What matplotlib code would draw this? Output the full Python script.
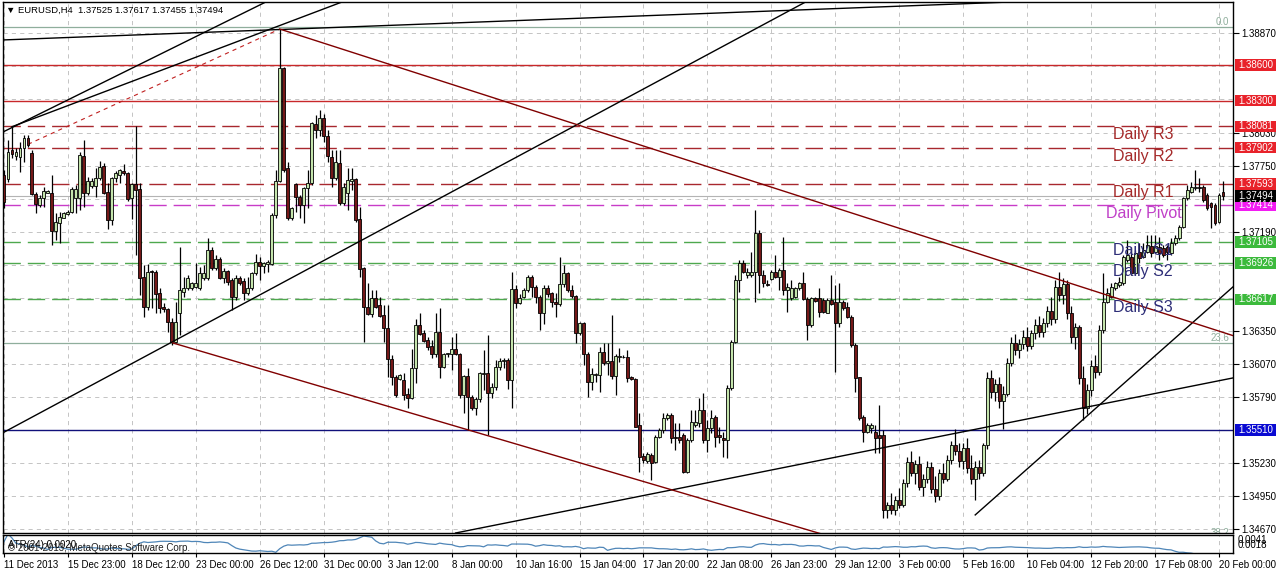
import matplotlib
matplotlib.use('Agg')
import matplotlib.pyplot as plt
from matplotlib.patches import Rectangle
import numpy as np
import pandas as pd

plt.rcParams['font.family'] = ['Liberation Sans', 'DejaVu Sans']
plt.rcParams['lines.scale_dashes'] = False

# ---------------- data (EURUSD H4 candles) ----------------
opens = [
    1.37670, 1.37636, 1.37882, 1.37831, 1.37825, 1.37896, 1.37980, 1.37859, 1.37506, 1.37416,
    1.37473, 1.37521, 1.37515, 1.37199, 1.37267, 1.37309, 1.37337, 1.37354, 1.37478, 1.37478,
    1.37831, 1.37515, 1.37580, 1.37580, 1.37642, 1.37746, 1.37529, 1.37292, 1.37642, 1.37670,
    1.37704, 1.37684, 1.37473, 1.37591, 1.37552, 1.36809, 1.36550, 1.36857, 1.36852, 1.36668,
    1.36550, 1.36536, 1.36428, 1.36259, 1.36499, 1.36682, 1.36711, 1.36711, 1.36725, 1.36711,
    1.36801, 1.36801, 1.37035, 1.36880, 1.36959, 1.36801, 1.36857, 1.36781, 1.36640, 1.36801,
    1.36773, 1.36668, 1.36711, 1.36838, 1.36936, 1.36900, 1.36914, 1.36914, 1.37331, 1.37619,
    1.38579, 1.37727, 1.37303, 1.37591, 1.37487, 1.37416, 1.37557, 1.37600, 1.38100, 1.38050,
    1.38150, 1.38000, 1.37826, 1.37642, 1.37769, 1.37430, 1.37515, 1.37622, 1.37634, 1.37295,
    1.36880, 1.36556, 1.36494, 1.36626, 1.36570, 1.36485, 1.36372, 1.36110, 1.35963, 1.35940,
    1.35935, 1.35814, 1.35780, 1.36034, 1.36400, 1.36336, 1.36273, 1.36223, 1.36155, 1.36344,
    1.36042, 1.36152, 1.36155, 1.36200, 1.36155, 1.35808, 1.35972, 1.35794, 1.35695, 1.35771,
    1.35986, 1.35991, 1.35828, 1.35878, 1.36042, 1.36096, 1.36104, 1.35935, 1.36702, 1.36584,
    1.36640, 1.36697, 1.36810, 1.36725, 1.36640, 1.36505, 1.36717, 1.36669, 1.36598, 1.36578,
    1.36745, 1.36838, 1.36697, 1.36646, 1.36330, 1.36415, 1.36155, 1.35921, 1.35977, 1.35977,
    1.36175, 1.36076, 1.36098, 1.35969, 1.36127, 1.36127, 1.36132, 1.35957, 1.35940, 1.35554,
    1.35291, 1.35249, 1.35300, 1.35243, 1.35455, 1.35512, 1.35610, 1.35639, 1.35455, 1.35455,
    1.35469, 1.35159, 1.35427, 1.35554, 1.35568, 1.35681, 1.35427, 1.35526, 1.35624, 1.35469,
    1.35441, 1.35427, 1.35864, 1.36254, 1.36781, 1.36923, 1.36824, 1.36824, 1.36852, 1.37177,
    1.36824, 1.36748, 1.36787, 1.36852, 1.36810, 1.36866, 1.36697, 1.36626, 1.36640, 1.36711,
    1.36753, 1.36618, 1.36400, 1.36626, 1.36626, 1.36612, 1.36505, 1.36612, 1.36598, 1.36415,
    1.36598, 1.36556, 1.36471, 1.36231, 1.35957, 1.35624, 1.35497, 1.35526, 1.35497, 1.35469,
    1.35469, 1.34834, 1.34880, 1.34830, 1.34920, 1.34880, 1.35060, 1.35240, 1.35150, 1.35220,
    1.35030, 1.35100, 1.35200, 1.35010, 1.34950, 1.35150, 1.35100, 1.35260, 1.35380, 1.35330,
    1.35250, 1.35360, 1.35190, 1.35100, 1.35200, 1.35150, 1.35380, 1.35950, 1.35830, 1.35900,
    1.35760, 1.35820, 1.36080, 1.36250, 1.36190, 1.36240, 1.36300, 1.36220, 1.36330, 1.36400,
    1.36340, 1.36420, 1.36520, 1.36450, 1.36720, 1.36650, 1.36750, 1.36500, 1.36300, 1.36380,
    1.35950, 1.35700, 1.35850, 1.36050, 1.36000, 1.36358, 1.36598, 1.36640, 1.36711, 1.36739,
    1.36753, 1.36951, 1.36979, 1.36838, 1.37021, 1.36979, 1.37021, 1.37069, 1.37021, 1.37064,
    1.37050, 1.37064, 1.37007, 1.37092, 1.37134, 1.37233, 1.37473, 1.37529, 1.37558, 1.37572,
    1.37572, 1.37501, 1.37431, 1.37416, 1.37275, 1.37525,
]
highs = [
    1.37712, 1.37966, 1.38079, 1.37896, 1.37952, 1.38009, 1.38009, 1.37882, 1.37529, 1.37501,
    1.37571, 1.37543, 1.37670, 1.37346, 1.37360, 1.37360, 1.37374, 1.37571, 1.37585, 1.37868,
    1.37966, 1.37656, 1.37648, 1.37727, 1.37789, 1.37769, 1.37600, 1.37656, 1.37704, 1.37718,
    1.37760, 1.37698, 1.37600, 1.38088, 1.37600, 1.36908, 1.36914, 1.36866, 1.36866, 1.36711,
    1.36584, 1.36541, 1.36457, 1.36598, 1.37063, 1.36809, 1.36823, 1.36767, 1.36922, 1.36894,
    1.36908, 1.37140, 1.37063, 1.36993, 1.36979, 1.36880, 1.36866, 1.36795, 1.36823, 1.36818,
    1.36795, 1.36809, 1.36852, 1.37004, 1.36979, 1.36936, 1.36950, 1.37346, 1.37712, 1.38906,
    1.38587, 1.37783, 1.37402, 1.37600, 1.37501, 1.37571, 1.37712, 1.38122, 1.38180, 1.38220,
    1.38190, 1.38050, 1.37882, 1.37882, 1.37882, 1.37600, 1.37727, 1.37727, 1.37642, 1.37402,
    1.36894, 1.36753, 1.36697, 1.36697, 1.36640, 1.36570, 1.36570, 1.36146, 1.35977, 1.35983,
    1.35991, 1.35864, 1.36194, 1.36448, 1.36505, 1.36358, 1.36301, 1.36273, 1.36499, 1.36541,
    1.36161, 1.36166, 1.36301, 1.36330, 1.36161, 1.35977, 1.36034, 1.35808, 1.35794, 1.36005,
    1.36189, 1.36316, 1.35907, 1.36104, 1.36118, 1.36118, 1.36118, 1.36852, 1.36739, 1.36663,
    1.36711, 1.36824, 1.36824, 1.36739, 1.36654, 1.36739, 1.36739, 1.36683, 1.36669, 1.36973,
    1.36908, 1.36852, 1.36739, 1.36654, 1.36429, 1.36429, 1.36175, 1.36034, 1.35997, 1.36217,
    1.36245, 1.36251, 1.36485, 1.36155, 1.36203, 1.36146, 1.36189, 1.35969, 1.35949, 1.35653,
    1.35314, 1.35328, 1.35314, 1.35469, 1.35526, 1.35653, 1.35653, 1.35653, 1.35574, 1.35568,
    1.35483, 1.35441, 1.35681, 1.35681, 1.35780, 1.35822, 1.35596, 1.35681, 1.35639, 1.35540,
    1.35497, 1.35893, 1.36273, 1.36824, 1.36951, 1.36951, 1.36880, 1.37021, 1.37374, 1.37205,
    1.36866, 1.36781, 1.36866, 1.36993, 1.36880, 1.37143, 1.36753, 1.36781, 1.36725, 1.36767,
    1.36852, 1.36640, 1.36640, 1.36640, 1.36711, 1.36626, 1.36626, 1.36824, 1.36739, 1.36753,
    1.36612, 1.36598, 1.36485, 1.36245, 1.35963, 1.35639, 1.35568, 1.35568, 1.35554, 1.35723,
    1.35512, 1.34900, 1.34980, 1.34950, 1.35020, 1.35100, 1.35280, 1.35330, 1.35260, 1.35290,
    1.35140, 1.35250, 1.35240, 1.35120, 1.35180, 1.35230, 1.35300, 1.35420, 1.35520, 1.35400,
    1.35400, 1.35440, 1.35300, 1.35250, 1.35260, 1.35400, 1.36000, 1.36020, 1.35940, 1.35960,
    1.35880, 1.36120, 1.36300, 1.36320, 1.36280, 1.36360, 1.36380, 1.36360, 1.36450, 1.36480,
    1.36460, 1.36560, 1.36640, 1.36780, 1.36850, 1.36800, 1.36780, 1.36560, 1.36420, 1.36400,
    1.36050, 1.35900, 1.36100, 1.36150, 1.36400, 1.36838, 1.36711, 1.36753, 1.36767, 1.36810,
    1.36993, 1.37120, 1.37064, 1.37035, 1.37092, 1.37092, 1.37162, 1.37162, 1.37162, 1.37148,
    1.37078, 1.37078, 1.37134, 1.37162, 1.37247, 1.37487, 1.37586, 1.37614, 1.37713, 1.37642,
    1.37586, 1.37515, 1.37445, 1.37431, 1.37515, 1.37617,
]
lows = [
    1.37388, 1.37614, 1.37811, 1.37797, 1.37698, 1.37783, 1.37910, 1.37501, 1.37346, 1.37402,
    1.37402, 1.37515, 1.37077, 1.37120, 1.37092, 1.37303, 1.37331, 1.37346, 1.37346, 1.37374,
    1.37402, 1.37501, 1.37557, 1.37487, 1.37628, 1.37506, 1.37210, 1.37247, 1.37614, 1.37600,
    1.37670, 1.37453, 1.37295, 1.36993, 1.36654, 1.36471, 1.36527, 1.36541, 1.36499, 1.36499,
    1.36513, 1.36344, 1.36231, 1.36245, 1.36316, 1.36640, 1.36696, 1.36696, 1.36711, 1.36696,
    1.36781, 1.36781, 1.36866, 1.36866, 1.36790, 1.36753, 1.36739, 1.36527, 1.36612, 1.36739,
    1.36612, 1.36654, 1.36696, 1.36823, 1.36781, 1.36838, 1.36852, 1.36908, 1.37303, 1.37614,
    1.37698, 1.37289, 1.37289, 1.37360, 1.37303, 1.37261, 1.37388, 1.37585, 1.37980, 1.38000,
    1.37950, 1.37780, 1.37572, 1.37628, 1.37416, 1.37416, 1.37374, 1.37543, 1.37275, 1.36810,
    1.36259, 1.36485, 1.36471, 1.36542, 1.36471, 1.36259, 1.35963, 1.35892, 1.35794, 1.35935,
    1.35765, 1.35695, 1.35771, 1.35907, 1.36316, 1.36259, 1.36189, 1.36118, 1.36132, 1.35949,
    1.36034, 1.36132, 1.36020, 1.36146, 1.35780, 1.35653, 1.35512, 1.35681, 1.35639, 1.35751,
    1.35850, 1.35469, 1.35780, 1.35850, 1.36020, 1.36034, 1.35856, 1.35695, 1.36542, 1.36578,
    1.36626, 1.36683, 1.36640, 1.36584, 1.36358, 1.36409, 1.36640, 1.36556, 1.36471, 1.36561,
    1.36725, 1.36683, 1.36626, 1.36251, 1.36316, 1.36062, 1.35794, 1.35850, 1.35921, 1.35836,
    1.36062, 1.35977, 1.35940, 1.35808, 1.36090, 1.36118, 1.35921, 1.35935, 1.35534, 1.35159,
    1.35229, 1.35229, 1.35088, 1.35229, 1.35441, 1.35483, 1.35596, 1.35399, 1.35342, 1.35399,
    1.35145, 1.35145, 1.35413, 1.35540, 1.35540, 1.35399, 1.35328, 1.35483, 1.35370, 1.35399,
    1.35286, 1.35272, 1.35850, 1.36245, 1.36683, 1.36838, 1.36796, 1.36810, 1.36598, 1.36669,
    1.36725, 1.36731, 1.36781, 1.36796, 1.36697, 1.36654, 1.36513, 1.36612, 1.36626, 1.36697,
    1.36612, 1.36273, 1.36386, 1.36598, 1.36471, 1.36499, 1.36499, 1.36570, 1.36005, 1.36386,
    1.36527, 1.36457, 1.36217, 1.35836, 1.35596, 1.35413, 1.35483, 1.35483, 1.35314, 1.35314,
    1.34768, 1.34766, 1.34800, 1.34790, 1.34850, 1.34860, 1.35030, 1.35120, 1.35050, 1.35000,
    1.34950, 1.35060, 1.34980, 1.34900, 1.34920, 1.35060, 1.35080, 1.35220, 1.35300, 1.35200,
    1.35180, 1.35150, 1.35050, 1.34920, 1.35100, 1.35120, 1.35350, 1.35780, 1.35760, 1.35700,
    1.35520, 1.35800, 1.36050, 1.36150, 1.36120, 1.36200, 1.36180, 1.36200, 1.36280, 1.36300,
    1.36300, 1.36380, 1.36400, 1.36420, 1.36600, 1.36580, 1.36450, 1.36250, 1.36200, 1.35900,
    1.35600, 1.35650, 1.35800, 1.35950, 1.35980, 1.36330, 1.36584, 1.36626, 1.36697, 1.36725,
    1.36739, 1.36937, 1.36824, 1.36824, 1.36923, 1.36965, 1.37007, 1.36979, 1.37007, 1.36951,
    1.36979, 1.36951, 1.36993, 1.37078, 1.37120, 1.37219, 1.37459, 1.37515, 1.37543, 1.37529,
    1.37445, 1.37374, 1.37219, 1.37247, 1.37261, 1.37455,
]
closes = [
    1.37444, 1.37868, 1.37848, 1.37868, 1.37896, 1.37980, 1.37924, 1.37506, 1.37425, 1.37478,
    1.37535, 1.37538, 1.37199, 1.37275, 1.37317, 1.37346, 1.37360, 1.37552, 1.37552, 1.37839,
    1.37515, 1.37619, 1.37619, 1.37642, 1.37741, 1.37521, 1.37292, 1.37642, 1.37684, 1.37712,
    1.37684, 1.37464, 1.37591, 1.37546, 1.36801, 1.36550, 1.36852, 1.36846, 1.36660, 1.36541,
    1.36536, 1.36428, 1.36259, 1.36428, 1.36696, 1.36711, 1.36795, 1.36753, 1.36753, 1.36838,
    1.36838, 1.37035, 1.36880, 1.36959, 1.36801, 1.36857, 1.36767, 1.36640, 1.36801, 1.36759,
    1.36668, 1.36711, 1.36838, 1.36936, 1.36900, 1.36922, 1.36931, 1.37331, 1.37619, 1.38579,
    1.37712, 1.37303, 1.37388, 1.37487, 1.37416, 1.37563, 1.37600, 1.38107, 1.38050, 1.38150,
    1.38000, 1.37830, 1.37642, 1.37783, 1.37430, 1.37572, 1.37628, 1.37634, 1.37289, 1.36872,
    1.36556, 1.36494, 1.36626, 1.36556, 1.36479, 1.36372, 1.36110, 1.35963, 1.35808, 1.35974,
    1.35808, 1.35780, 1.36034, 1.36400, 1.36321, 1.36268, 1.36217, 1.36155, 1.36344, 1.36042,
    1.36155, 1.36161, 1.36194, 1.36155, 1.35808, 1.35972, 1.35794, 1.35695, 1.35771, 1.35991,
    1.35991, 1.35828, 1.35878, 1.36042, 1.36098, 1.36104, 1.35935, 1.36702, 1.36584, 1.36626,
    1.36697, 1.36810, 1.36725, 1.36640, 1.36505, 1.36717, 1.36663, 1.36598, 1.36578, 1.36745,
    1.36838, 1.36697, 1.36646, 1.36330, 1.36415, 1.36155, 1.35921, 1.35986, 1.35986, 1.36175,
    1.36076, 1.36098, 1.35969, 1.36138, 1.36138, 1.36132, 1.35949, 1.35940, 1.35540, 1.35286,
    1.35258, 1.35308, 1.35229, 1.35455, 1.35512, 1.35610, 1.35639, 1.35441, 1.35441, 1.35427,
    1.35159, 1.35427, 1.35582, 1.35582, 1.35681, 1.35427, 1.35526, 1.35610, 1.35455, 1.35455,
    1.35427, 1.35864, 1.36254, 1.36781, 1.36923, 1.36852, 1.36852, 1.36852, 1.37177, 1.36824,
    1.36753, 1.36736, 1.36852, 1.36804, 1.36866, 1.36697, 1.36725, 1.36711, 1.36711, 1.36753,
    1.36618, 1.36400, 1.36626, 1.36606, 1.36513, 1.36513, 1.36612, 1.36578, 1.36415, 1.36598,
    1.36542, 1.36471, 1.36231, 1.35949, 1.35610, 1.35497, 1.35554, 1.35554, 1.35441, 1.35441,
    1.34834, 1.34880, 1.34830, 1.34920, 1.34880, 1.35060, 1.35240, 1.35150, 1.35220, 1.35030,
    1.35100, 1.35200, 1.35010, 1.34950, 1.35150, 1.35100, 1.35260, 1.35380, 1.35330, 1.35250,
    1.35360, 1.35190, 1.35100, 1.35200, 1.35150, 1.35380, 1.35950, 1.35830, 1.35900, 1.35760,
    1.35820, 1.36080, 1.36250, 1.36190, 1.36240, 1.36300, 1.36220, 1.36330, 1.36400, 1.36340,
    1.36420, 1.36520, 1.36450, 1.36720, 1.36650, 1.36750, 1.36500, 1.36300, 1.36380, 1.35950,
    1.35700, 1.35850, 1.36050, 1.36000, 1.36360, 1.36598, 1.36669, 1.36725, 1.36753, 1.36767,
    1.36979, 1.36993, 1.36838, 1.37007, 1.36965, 1.37035, 1.37078, 1.37007, 1.37069, 1.37007,
    1.36993, 1.37021, 1.37092, 1.37134, 1.37233, 1.37473, 1.37543, 1.37572, 1.37572, 1.37558,
    1.37459, 1.37388, 1.37402, 1.37261, 1.37501, 1.37494,
]

date_labels = ["11 Dec 2013", "15 Dec 23:00", "18 Dec 12:00", "23 Dec 00:00", "26 Dec 12:00",
               "31 Dec 00:00", "3 Jan 12:00", "8 Jan 00:00", "10 Jan 16:00", "15 Jan 04:00",
               "17 Jan 20:00", "22 Jan 08:00", "26 Jan 23:00", "29 Jan 12:00", "3 Feb 00:00",
               "5 Feb 16:00", "10 Feb 04:00", "12 Feb 20:00", "17 Feb 08:00", "20 Feb 00:00"]
bars_per_label = 16

price_ticks = [1.34670, 1.34950, 1.35230, 1.35790, 1.36070, 1.36350,
               1.37190, 1.37750, 1.38030, 1.38870]
hidden_grid_ticks = [1.35510, 1.36630, 1.36910, 1.37470, 1.38310, 1.38590]
y_range = (1.34639, 1.39135)

# horizontal price levels: value, line colour, dashed?, axis-label background
level_values = [1.38600, 1.38300, 1.38081, 1.37902, 1.37593, 1.37414, 1.37105, 1.36926, 1.36617, 1.35510]
level_colors = ['#c8282a', '#c8282a', '#a8282e', '#a8282e', '#a8282e', '#c83cc8',
                '#4ea84e', '#4ea84e', '#4ea84e', '#10107a']
level_dashed = [False, False, True, True, True, True, True, True, True, False]
level_boxes = ['#e8222a', '#e8222a', '#e8222a', '#e8222a', '#e8222a', '#f21cf2',
               '#3cba3c', '#3cba3c', '#3cba3c', '#0a0ad2']
bid_price = 1.37494

pivot_names = ['Daily R3', 'Daily R2', 'Daily R1', 'Daily Pivot', 'Daily S1', 'Daily S2', 'Daily S3']
pivot_values = [1.38081, 1.37902, 1.37593, 1.37414, 1.37105, 1.36926, 1.36617]
pivot_colors = ['#a52a2a', '#a52a2a', '#a52a2a', '#c040c8', '#2e2e78', '#2e2e78', '#2e2e78']
pivot_text_bar = [277.5, 277.5, 277.5, 275.8, 277.5, 277.5, 277.5]

fib_names = ['0.0', '23.6', '38.2']
fib_values = [1.38921, 1.36245, 1.34590]

# trend lines: (bar1, price1, bar2, price2, colour, kind)  kind: 'line' = infinite, 'ray' = to the right
trend_lines = [
    (-0.75, 1.38813, 245.5, 1.39127, 'black', 'line'),
    (-0.75, 1.38026, 65.5, 1.39135, 'black', 'line'),
    (2.0, 1.38079, 79.25, 1.39067, 'black', 'ray'),
    (42.2, 1.36259, 116.75, 1.37613, 'black', 'line'),
    (113.0, 1.34639, 307.5, 1.35952, 'black', 'line'),
    (243.0, 1.34792, 307.5, 1.36723, 'black', 'ray'),
    (69.0, 1.38906, 264.25, 1.36781, '#800000', 'ray'),
    (42.25, 1.36248, 203.75, 1.34639, '#800000', 'ray'),
]
fib_baseline = (6.0, 1.37930, 69.0, 1.38906)

title_text = "\u25BC EURUSD,H4  1.37525 1.37617 1.37455 1.37494"
atr_period = 24
atr_value_text = '0.0020'
atr_limits = (0.0018, 0.0041)

# ---------------- figure ----------------
W, H = 1276, 572
fig = plt.figure(figsize=(W / 100, H / 100), dpi=100)
fig.patch.set_facecolor('white')

def px_axes(x0, y0, x1, y1):
    return fig.add_axes([x0 / W, 1 - y1 / H, (x1 - x0) / W, (y1 - y0) / H])

ax = px_axes(3, 2, 1233, 533)
ax_atr = px_axes(3, 535, 1233, 553)

x_max = 307.5
for a in (ax, ax_atr):
    a.set_xlim(-0.25, x_max)
    for sp in a.spines.values():
        sp.set_color('black')
        sp.set_linewidth(1.0)
    a.set_facecolor('white')
ax.set_ylim(*y_range)

grid_kw = dict(color='#c4c4c4', linewidth=0.7, linestyle=(0, (3, 3)), zorder=0)
label_bars = [bars_per_label * k for k in range(len(date_labels))]
for b in label_bars:
    ax.axvline(b, **grid_kw)
    ax_atr.axvline(b, **grid_kw)
for p in price_ticks + hidden_grid_ticks:
    ax.axhline(p, **grid_kw)

# right price axis
ax.yaxis.tick_right()
ax.set_yticks(price_ticks)
ax.set_yticklabels([f'{p:.5f}' for p in price_ticks])
ax.tick_params(axis='y', direction='out', length=4, width=0.8, pad=2, labelsize=7, colors='black')
ax.set_xticks([])

# horizontal levels
for v, c, d in zip(level_values, level_colors, level_dashed):
    if d:
        ax.axhline(v, color=c, linewidth=1.0, linestyle=(0, (12.5, 5)), zorder=2)
    else:
        ax.axhline(v, color=c, linewidth=1.0, zorder=2)
ax.axhline(bid_price, color='#b4b4b4', linewidth=0.8, zorder=1.5)

# fibonacci levels
for name, v in zip(fib_names, fib_values):
    ax.axhline(v, color='#8fae9c', linewidth=0.9, zorder=1.6)
    ax.text(x_max - 1.0, v + 0.00006, name, color='#8fae9c', fontsize=7, ha='right', va='bottom',
            clip_on=True, zorder=2)
ax.plot([fib_baseline[0], fib_baseline[2]], [fib_baseline[1], fib_baseline[3]],
        color='#c02020', linewidth=0.8, linestyle=(0, (3, 3)), zorder=2)

# trend lines
for b1, p1, b2, p2, col, kind in trend_lines:
    if kind == 'line':
        ax.axline((b1, p1), (b2, p2), color=col, linewidth=1.0, zorder=4)
    else:
        slope = (p2 - p1) / (b2 - b1)
        xe = x_max + 5
        ax.plot([b1, xe], [p1, p1 + slope * (xe - b1)], color=col, linewidth=1.0, zorder=4)

# candles
o = np.array(opens); h = np.array(highs); l = np.array(lows); c = np.array(closes)
idx = np.arange(len(c))
ax.vlines(idx, l, h, color='black', linewidth=0.9, zorder=3)
bull = c >= o
body_bottom = np.minimum(o, c)
body_h = np.maximum(np.abs(c - o), 0.000015)
ax.bar(idx[bull], body_h[bull], bottom=body_bottom[bull], width=0.74, color='#c4e4ac',
       edgecolor='black', linewidth=0.6, zorder=3.2)
ax.bar(idx[~bull], body_h[~bull], bottom=body_bottom[~bull], width=0.74, color='#741818',
       edgecolor='black', linewidth=0.6, zorder=3.2)

# price boxes on the axis
ytr = ax.get_yaxis_transform()
box_h = 11.5 / 11810.0
for v, bc in list(zip(level_values, level_boxes)) + [(bid_price, 'black')]:
    ax.add_patch(Rectangle((1.0016, v - box_h / 2), 0.036, box_h, transform=ytr, facecolor=bc,
                           edgecolor='none', clip_on=False, zorder=9))
    ax.text(1.0042, v, f'{v:.5f}', transform=ytr, color='white', fontsize=7, ha='left', va='center',
            clip_on=False, zorder=10)

# pivot texts
for name, v, col, xb in zip(pivot_names, pivot_values, pivot_colors, pivot_text_bar):
    ax.text(xb, v - 0.00008, name, color=col, fontsize=11.5, ha='left', va='top', zorder=5)

# title
fig.text(6 / W, 1 - 10 / H, title_text, fontsize=6.8, ha='left', va='center', color='black')

# ATR panel
df = pd.DataFrame({'h': h, 'l': l, 'c': c})
prev_c = df['c'].shift(1).fillna(df['c'])
tr = pd.concat([df['h'] - df['l'], (df['h'] - prev_c).abs(), (df['l'] - prev_c).abs()], axis=1).max(axis=1)
atr = tr.rolling(atr_period, min_periods=1).mean()
ax_atr.plot(idx, atr.values, color='#4f86b8', linewidth=0.9)
ax_atr.set_ylim(*atr_limits)
ax_atr.set_yticks([])
ax_atr.set_xticks(label_bars)
ax_atr.set_xticklabels(date_labels, ha='left')
ax_atr.tick_params(axis='x', direction='out', length=3, width=0.8, pad=2, labelsize=7)
ax_atr.text(0.004, 0.45, f'ATR({atr_period}) {atr_value_text}', transform=ax_atr.transAxes, fontsize=7,
            ha='left', va='center', color='black')
ax_atr.text(0.004, 0.30, '\u00A9 2001-2013, MetaQuotes Software Corp.', transform=ax_atr.transAxes,
            fontsize=7, ha='left', va='center', color='#202020')
ax_atr.text(1.004, 0.72, f'{atr_limits[1]:.4f}', transform=ax_atr.transAxes, fontsize=7, ha='left', va='center')
ax_atr.text(1.004, 0.42, f'{atr_limits[0]:.4f}', transform=ax_atr.transAxes, fontsize=7, ha='left', va='center')

fig.savefig('out.png', dpi=100)
